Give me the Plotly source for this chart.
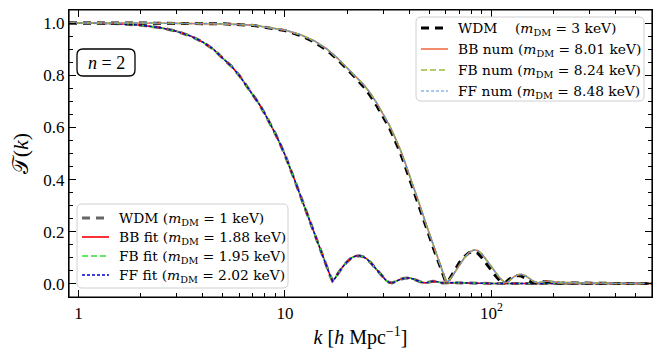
import plotly.graph_objects as go

# 1 keV family (WDM + fits)
k_1kev = [0.9, 1.0, 1.5, 2.0, 2.5, 3.0, 3.5, 4.0, 4.5, 5.0, 5.5, 6.0, 6.5, 7.0, 7.5,
          8.0, 8.5, 9.0, 9.5, 10.0, 11.0, 12.0, 13.0, 14.0, 15.0, 16.0, 16.5, 17.0,
          17.5, 18.0, 19.0, 20.0, 21.0, 22.0, 23.0, 24.0, 25.0, 26.0, 27.0, 28.0,
          29.0, 30.0, 31.0, 32.0, 33.0, 34.0, 36.0, 38.0, 40.0, 42.0, 44.0, 46.0,
          48.0, 50.0, 52.0, 54.0, 56.0, 58.0, 62.0, 70.0, 80.0, 100.0, 150.0,
          200.0, 300.0, 400.0, 600.0]
t_wdm_1kev = [1.0, 1.0, 0.998, 0.992, 0.982, 0.968, 0.95, 0.927, 0.9, 0.865, 0.835,
              0.8, 0.76, 0.725, 0.69, 0.652, 0.615, 0.575, 0.535, 0.495, 0.41, 0.33,
              0.255, 0.185, 0.12, 0.058, 0.035, 0.012, 0.022, 0.038, 0.065, 0.085,
              0.1, 0.107, 0.108, 0.104, 0.095, 0.082, 0.067, 0.05, 0.035, 0.022,
              0.012, 0.006, 0.004, 0.008, 0.017, 0.022, 0.023, 0.019, 0.012, 0.006,
              0.004, 0.008, 0.01, 0.009, 0.006, 0.004, 0.005, 0.004, 0.003, 0.002,
              0.002, 0.002, 0.002, 0.002, 0.002]
t_fit_1kev = t_wdm_1kev  # BB / FB / FF fits sit on top of the WDM curve

# 3 keV family (WDM + numerical)
k_3kev = [0.9, 2.0, 5.0, 7.0, 10.0, 12.0, 14.0, 16.0, 18.0, 20.0, 22.0, 24.0, 26.0,
          28.0, 30.0, 32.0, 34.0, 36.0, 38.0, 40.0, 42.0, 44.0, 46.0, 48.0, 50.0,
          52.0, 54.0, 56.0, 58.0, 60.0, 61.0, 62.0, 64.0, 67.0, 70.0, 74.0, 78.0,
          82.0, 86.0, 90.0, 95.0, 100.0, 105.0, 110.0, 115.0, 118.0, 122.0, 128.0,
          134.0, 140.0, 146.0, 152.0, 160.0, 167.0, 175.0, 185.0, 195.0, 205.0,
          215.0, 230.0, 260.0, 300.0, 400.0, 600.0]
t_num_3kev = [1.0, 1.0, 0.997, 0.992, 0.973, 0.954, 0.93, 0.9, 0.865, 0.83, 0.795,
              0.765, 0.73, 0.69, 0.65, 0.61, 0.565, 0.52, 0.47, 0.42, 0.375, 0.33,
              0.28, 0.235, 0.195, 0.155, 0.12, 0.085, 0.05, 0.015, 0.008, 0.012,
              0.025, 0.05, 0.075, 0.1, 0.12, 0.13, 0.128, 0.115, 0.09, 0.065,
              0.042, 0.022, 0.008, 0.004, 0.012, 0.026, 0.035, 0.037, 0.032, 0.022,
              0.01, 0.004, 0.007, 0.011, 0.01, 0.006, 0.004, 0.005, 0.004, 0.003,
              0.002, 0.002]
t_wdm_3kev = [1.0, 1.0, 0.997, 0.991, 0.971, 0.951, 0.926, 0.895, 0.86, 0.825, 0.79,
              0.757, 0.72, 0.68, 0.64, 0.6, 0.553, 0.508, 0.458, 0.408, 0.363, 0.318,
              0.27, 0.225, 0.185, 0.145, 0.11, 0.075, 0.04, 0.01, 0.006, 0.012,
              0.03, 0.058, 0.082, 0.105, 0.12, 0.124, 0.118, 0.1, 0.075, 0.05, 0.03,
              0.012, 0.004, 0.008, 0.018, 0.028, 0.032, 0.03, 0.022, 0.012, 0.004,
              0.004, 0.008, 0.009, 0.006, 0.004, 0.003, 0.004, 0.003, 0.002, 0.002,
              0.002]

labels_1kev = ["WDM (<i>m</i><sub>DM</sub> = 1 keV)",
               "BB fit (<i>m</i><sub>DM</sub> = 1.88 keV)",
               "FB fit (<i>m</i><sub>DM</sub> = 1.95 keV)",
               "FF fit (<i>m</i><sub>DM</sub> = 2.02 keV)"]
labels_3kev = ["WDM    (<i>m</i><sub>DM</sub> = 3 keV)",
               "BB num (<i>m</i><sub>DM</sub> = 8.01 keV)",
               "FB num (<i>m</i><sub>DM</sub> = 8.24 keV)",
               "FF num (<i>m</i><sub>DM</sub> = 8.48 keV)"]

FONT = "Liberation Serif, DejaVu Serif, serif"
LEG_FONT = "DejaVu Serif, serif"
W, H = 662, 364
ML, MR, MT, MB = 69, 10, 10, 67
PW, PH = W - ML - MR, H - MT - MB


def px(x):
    return (x - ML) / PW


def py(y):
    return (H - MB - y) / PH


def rounded_box(x0, y0, x1, y1, r=5):
    # pixel box -> paper path with rounded corners
    rx, ry = r / PW, r / PH
    a, b, c, d = px(x0), py(y1), px(x1), py(y0)
    return (f"M {a+rx},{b} L {c-rx},{b} Q {c},{b} {c},{b+ry} L {c},{d-ry} "
            f"Q {c},{d} {c-rx},{d} L {a+rx},{d} Q {a},{d} {a},{d-ry} "
            f"L {a},{b+ry} Q {a},{b} {a+rx},{b} Z")


styles_1kev = [dict(color="#666666", width=3, dash="8px,6px"),
               dict(color="#ff0000", width=1.6),
               dict(color="#33dd33", width=1.6, dash="6px,3px"),
               dict(color="#0000cc", width=1.4, dash="3px,2px")]
styles_3kev = [dict(color="black", width=3, dash="8px,6px"),
               dict(color="#ef6c47", width=1.6),
               dict(color="#9bbb3b", width=1.6, dash="6px,3px"),
               dict(color="#5a8fe0", width=1.2, dash="3px,2px")]

fig = go.Figure()

for y, name, st in zip([t_wdm_1kev, t_fit_1kev, t_fit_1kev, t_fit_1kev], labels_1kev, styles_1kev):
    fig.add_trace(go.Scatter(x=k_1kev, y=y, mode="lines", name=name, line=st, showlegend=False))
for y, name, st in zip([t_wdm_3kev, t_num_3kev, t_num_3kev, t_num_3kev], labels_3kev, styles_3kev):
    fig.add_trace(go.Scatter(x=k_3kev, y=y, mode="lines", name=name, line=st, showlegend=False))

minor_x = [v * d for d in (1, 10, 100) for v in range(2, 10)] + [0.9]

fig.update_xaxes(
    type="log", range=[-0.0458, 2.778], automargin=False,
    tickvals=[1, 10, 100], ticktext=["1", "10", "10<sup>2</sup>"],
    ticks="inside", ticklen=7, tickwidth=1, tickcolor="black",
    minor=dict(tickvals=minor_x, ticks="inside", ticklen=4, tickcolor="black"),
    mirror="allticks", showline=True, linecolor="black", linewidth=1.2,
    showgrid=False, zeroline=False,
    tickfont=dict(size=17),
    title=dict(text="<i>k</i> [<i>h</i> Mpc<sup>−1</sup>]", font=dict(size=20), standoff=8),
)
fig.update_yaxes(
    range=[-0.05, 1.05], automargin=False,
    tickvals=[0, 0.2, 0.4, 0.6, 0.8, 1.0], ticktext=["0.0", "0.2", "0.4", "0.6", "0.8", "1.0"],
    ticks="inside", ticklen=7, tickwidth=1, tickcolor="black",
    minor=dict(dtick=0.05, ticks="inside", ticklen=4, tickcolor="black"),
    mirror="allticks", showline=True, linecolor="black", linewidth=1.2,
    showgrid=False, zeroline=False,
    tickfont=dict(size=17),
    title=dict(text="𝒯(<i>k</i>)", font=dict(size=22), standoff=8),
)

shapes = [
    # legend frames (rounded, semi-opaque like matplotlib)
    dict(type="path", xref="paper", yref="paper", layer="above",
         path=rounded_box(416, 17, 644, 101), fillcolor="rgba(255,255,255,0.8)",
         line=dict(color="#d0d0d0", width=1)),
    dict(type="path", xref="paper", yref="paper", layer="above",
         path=rounded_box(77, 204, 288, 288), fillcolor="rgba(255,255,255,0.8)",
         line=dict(color="#d0d0d0", width=1)),
    # n = 2 box
    dict(type="path", xref="paper", yref="paper", layer="above",
         path=rounded_box(77, 49, 135, 76, r=6), fillcolor="white",
         line=dict(color="black", width=1.3)),
    # axes frame
    dict(type="rect", xref="paper", yref="paper", x0=0, y0=0, x1=1, y1=1,
         layer="above", line=dict(color="black", width=1.2)),
]
annotations = [dict(
    text="<i>n</i> = 2", xref="paper", yref="paper", x=px(106), y=py(62.5),
    xanchor="center", yanchor="middle",
    showarrow=False, font=dict(family=FONT, size=18),
)]

# hand-placed legends (matplotlib-like spacing)
legend_rows = [
    (labels_3kev, styles_3kev, 421, 448, 456, [28, 49, 70, 91]),
    (labels_1kev, styles_1kev, 82, 109, 117, [218, 237, 256, 275]),
]
for labels, styles, sx0, sx1, tx, rows in legend_rows:
    for name, st, ry in zip(labels, styles, rows):
        shapes.append(dict(type="line", xref="paper", yref="paper", layer="above",
                           x0=px(sx0), x1=px(sx1), y0=py(ry), y1=py(ry), line=st))
        annotations.append(dict(text=name, xref="paper", yref="paper", x=px(tx), y=py(ry + 1),
                                xanchor="left", yanchor="middle", showarrow=False,
                                font=dict(family=LEG_FONT, size=13.8, color="black")))

fig.update_layout(
    width=W, height=H,
    margin=dict(l=ML, r=MR, t=MT, b=MB),
    paper_bgcolor="white", plot_bgcolor="white",
    font=dict(family=FONT, color="black"),
    showlegend=False,
    shapes=shapes,
    annotations=annotations,
)

fig.write_html("out.html", config={"displayModeBar": False},
               post_script="document.body.style.margin='0';")
